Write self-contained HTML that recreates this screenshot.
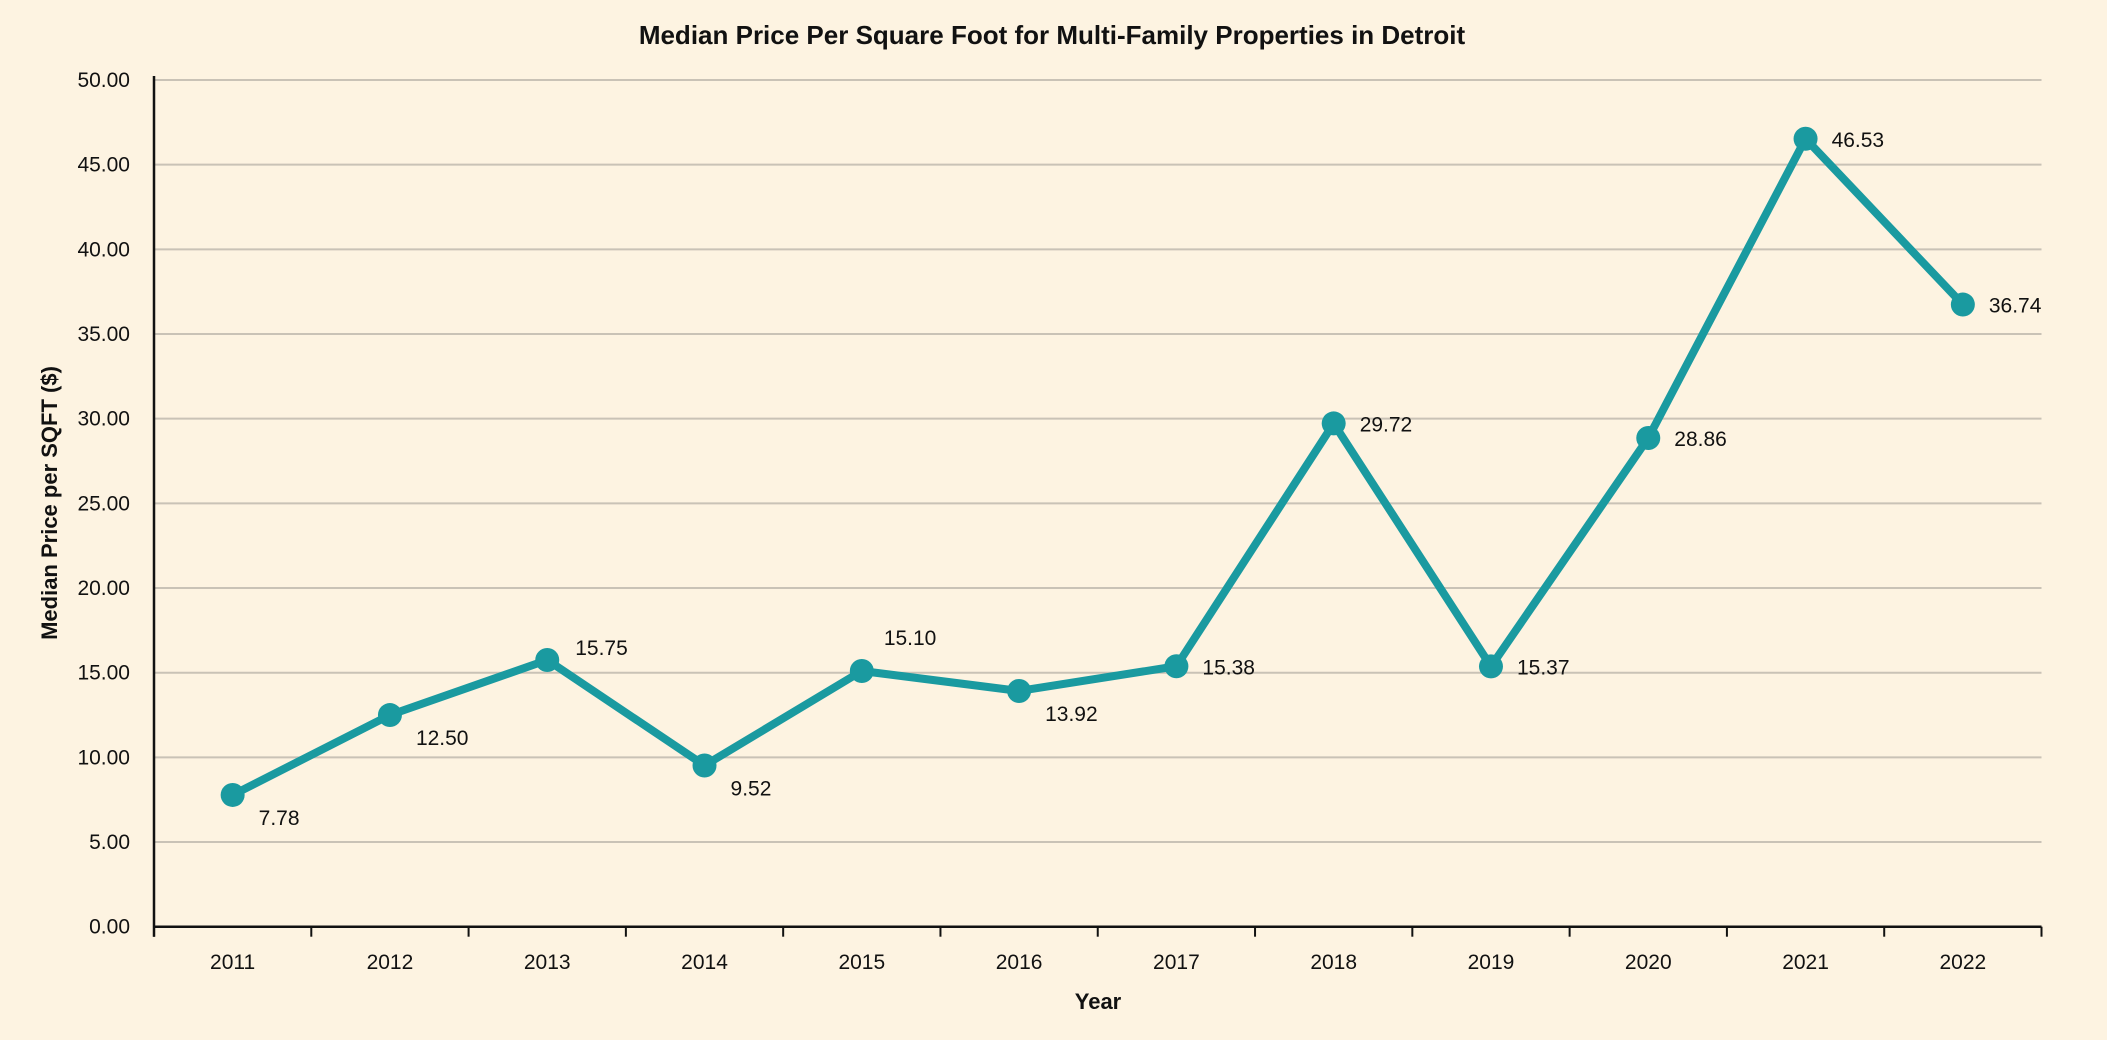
<!DOCTYPE html>
<html><head><meta charset="utf-8"><style>
html,body{margin:0;padding:0;background:#fdf3e1;}
svg{display:block;font-family:"Liberation Sans",sans-serif;}
</style></head><body>
<svg id="chart" width="2107" height="1040" viewBox="0 0 2107 1040">
<rect x="0" y="0" width="2107" height="1040" fill="#fdf3e1"/>
<text x="1052" y="44" text-anchor="middle" font-size="26" font-weight="bold" fill="#111">Median Price Per Square Foot for Multi-Family Properties in Detroit</text>
<g id="grid"></g><g id="axes"></g><g id="series"></g>
<text x="1098" y="1009" text-anchor="middle" font-size="22" font-weight="bold" fill="#111">Year</text>
<text transform="translate(57,503) rotate(-90)" text-anchor="middle" font-size="22" font-weight="bold" fill="#111">Median Price per SQFT ($)</text>
</svg>
<script>
const categories = ["2011","2012","2013","2014","2015","2016","2017","2018","2019","2020","2021","2022"];
const values = [7.78,12.50,15.75,9.52,15.10,13.92,15.38,29.72,15.37,28.86,46.53,36.74];
const yTicks = [0,5,10,15,20,25,30,35,40,45,50];
const labelPlacement = ["below","below","above-right","below","above","below","right","right","right","right","right","right"];

const NS="http://www.w3.org/2000/svg";
const L=154, R=2041.5, T=80, B=926.7, yMax=50;
const band=(R-L)/categories.length;
const xS=i=>L+band*(i+0.5);
const yS=v=>B-(v/yMax)*(B-T);
function mk(tag,attrs,parent,text){const e=document.createElementNS(NS,tag);for(const k in attrs)e.setAttribute(k,attrs[k]);if(text!==undefined)e.textContent=text;parent.appendChild(e);return e;}
const grid=document.getElementById('grid'),axes=document.getElementById('axes'),series=document.getElementById('series');
yTicks.forEach(t=>{
  if(t>0){const g=mk('line',{x1:L,x2:R,y1:yS(t),y2:yS(t),stroke:'#c9c2b6','stroke-width':2},grid);
  
  }
  const lb=mk('text',{x:130,y:yS(t)+7,'text-anchor':'end','font-size':21,fill:'#111'},axes,t.toFixed(2));
  
  
});
const ya=mk('line',{x1:L,x2:L,y1:T-4,y2:B+10,stroke:'#111','stroke-width':2.5},axes);


const xa=mk('line',{x1:L,x2:R,y1:B,y2:B,stroke:'#111','stroke-width':2.5},axes);


for(let i=0;i<=categories.length;i++){const tk=mk('line',{x1:L+band*i,x2:L+band*i,y1:B,y2:B+10,stroke:'#111','stroke-width':2},axes);

}
categories.forEach((c,i)=>{const t=mk('text',{x:xS(i),y:969,'text-anchor':'middle','font-size':21,fill:'#111'},axes,c);

});
const pts=values.map((v,i)=>xS(i)+','+yS(v)).join(' ');
const line=mk('polyline',{points:pts,fill:'none',stroke:'#1a9aa0','stroke-width':8,'stroke-linejoin':'round'},series);


values.forEach((v,i)=>{
  const c=mk('circle',{cx:xS(i),cy:yS(v),r:12,fill:'#1a9aa0'},series);
  
  
  let dx=26,dy=8;const p=labelPlacement[i];
  if(p==='below'){dx=26;dy=30;} else if(p==='above-right'){dx=28;dy=-5;} else if(p==='above'){dx=22;dy=-26;}
  const t=mk('text',{x:xS(i)+dx,y:yS(v)+dy,'font-size':21,fill:'#111'},series,v.toFixed(2));
  
  
});
</script>
</body></html>
